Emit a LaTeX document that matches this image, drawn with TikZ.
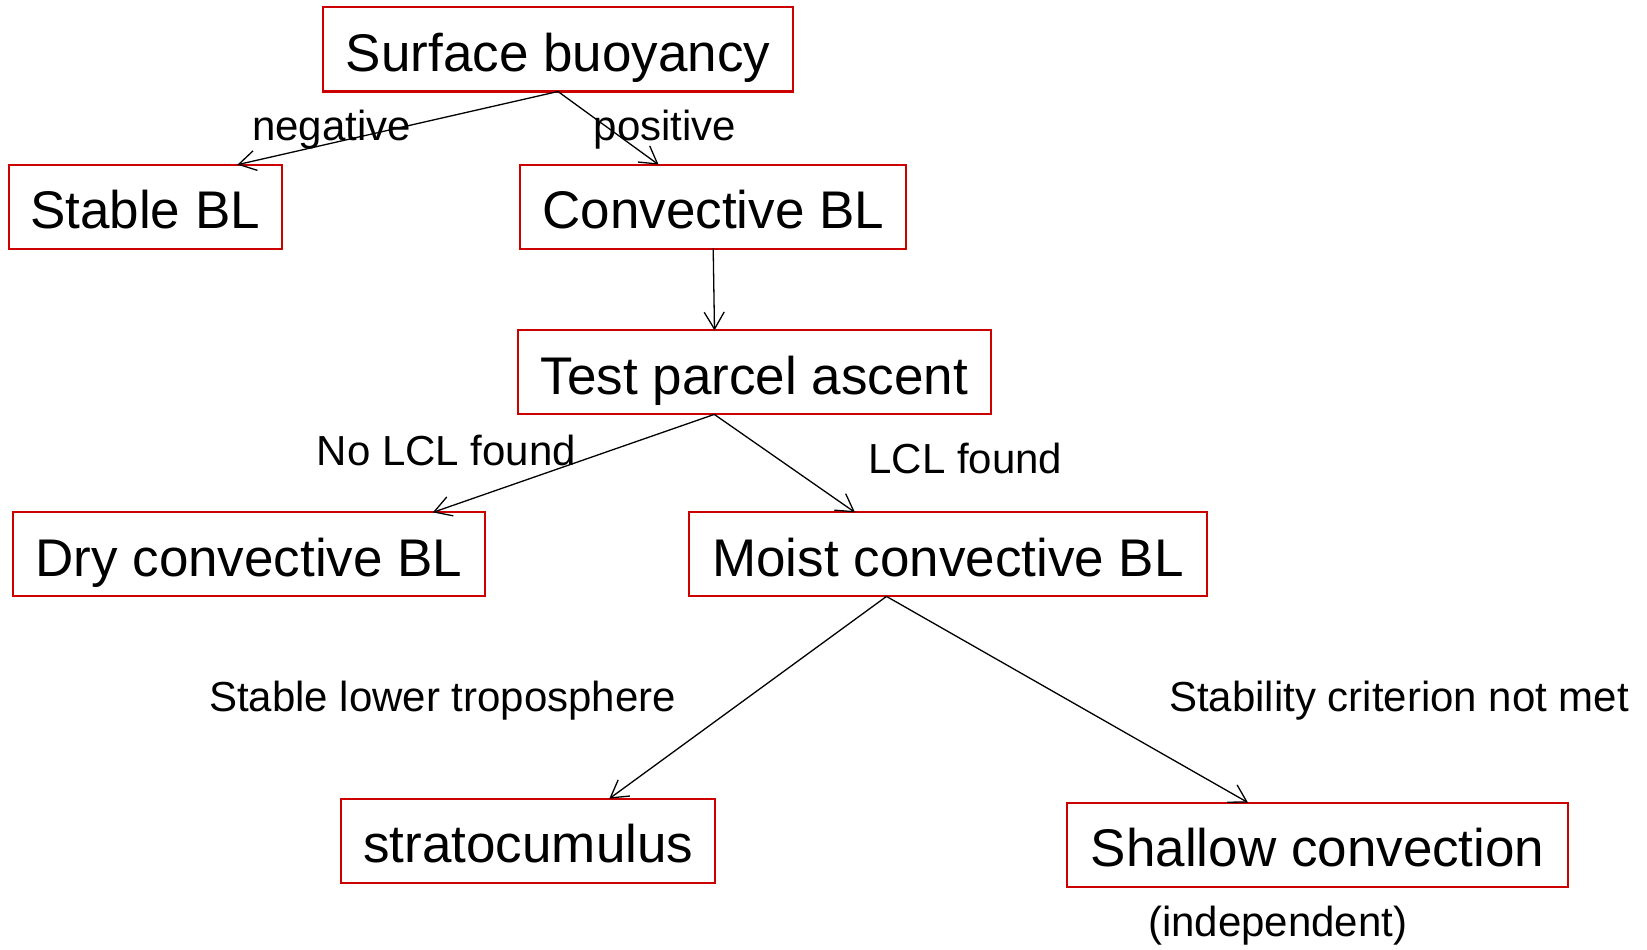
\documentclass[tikz,border=0pt]{standalone}
\usepackage{fontspec}
\setmainfont{Liberation Sans}
\usetikzlibrary{arrows.meta}
\definecolor{boxred}{RGB}{205,0,0}
\begin{document}
\begin{tikzpicture}[x=1pt,y=-1pt,
  box/.style={draw=boxred, line width=2pt, outer sep=0pt, inner sep=0pt,
    minimum height=84pt, text height=44pt, text depth=0pt,
    font=\fontsize{53}{60}\selectfont},
  lbl/.style={anchor=base west, inner sep=0pt, font=\fontsize{42}{48}\selectfont},
  link/.style={line width=1.3pt, -{Straight Barb[length=17pt,width=20pt,line width=1.3pt]}}]
\useasboundingbox (0,0) rectangle (1647,950);

% decision boxes
\node[box, minimum width=470pt]   (sb)      at (558,49.5)    {Surface buoyancy};
\node[box, minimum width=273pt]   (stable)  at (145,206.7)   {Stable BL};
\node[box, minimum width=386.5pt] (conv)    at (713.2,206.7) {Convective BL};
\node[box, minimum width=472.5pt] (test)    at (754.3,372.4) {Test parcel ascent};
\node[box, minimum width=472.7pt] (dry)     at (249,554.4)   {Dry convective BL};
\node[box, minimum width=518pt]   (moist)   at (948,554.4)   {Moist convective BL};
\node[box, minimum width=374pt]   (strato)  at (528.3,840.7) {stratocumulus};
\node[box, minimum width=501pt]   (shallow) at (1317.7,844.6){Shallow convection};

% branch labels
\node[lbl] (lneg)   at (252,140)    {negative};
\node[lbl] (lpos)   at (593.5,140)  {positive};
\node[lbl] (lnolcl) at (316.7,465)  {No LCL found};
\node[lbl] (llcl)   at (868.3,473.3){LCL found};
\node[lbl] (lstab)  at (209,711.7)  {Stable lower troposphere};
\node[lbl] (lnot)   at (1169,711.7) {Stability criterion not met};
\node[lbl] (lind)   at (1148,936.7) {(independent)};

% connectors
\draw[link] (sb.south) -- ([xshift=92.4pt]stable.north);
\draw[link] (sb.south) -- ([xshift=-54.6pt]conv.north);
\draw[link] (conv.south) -- ([xshift=-39.8pt]test.north);
\draw[link] ([xshift=-40pt]test.south) -- ([xshift=183.8pt]dry.north);
\draw[link] ([xshift=-40pt]test.south) -- ([xshift=-93pt]moist.north);
\draw[link] ([xshift=-61.5pt]moist.south) -- ([xshift=81pt]strato.north);
\draw[link] ([xshift=-61.5pt]moist.south) -- ([xshift=-69.7pt]shallow.north);
\end{tikzpicture}
\end{document}
